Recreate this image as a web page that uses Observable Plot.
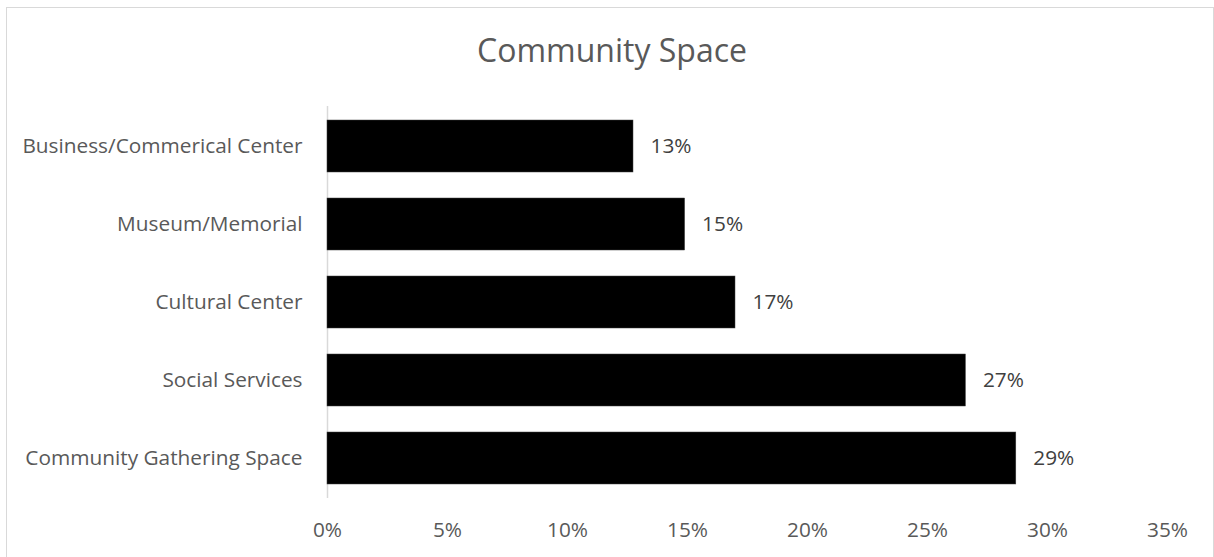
<!DOCTYPE html>
<html>
<head>
<meta charset="utf-8">
<script src="https://cdn.jsdelivr.net/npm/d3@7"></script>
<script src="https://cdn.jsdelivr.net/npm/@observablehq/plot@0.6"></script>
<style>
  html, body { margin: 0; padding: 0; background: #fff; }
  #wrap { position: relative; width: 1214px; height: 557px; overflow: hidden; font-family: "Open Sans", sans-serif; }
  #frame { position: absolute; left: 6px; top: 7px; width: 1208px; height: 600px; border: 1px solid #d9d9d9; box-sizing: border-box; pointer-events: none; }
  #title { height: 80px; box-sizing: border-box; padding-top: 34px; text-align: center; font-size: 32px; line-height: 1; color: #595959; padding-left: 10px; }
  #chart svg { display: block; }
</style>
</head>
<body>
<div id="wrap">
  <div id="frame"></div>
  <div id="title">Community Space</div>
  <div id="chart"></div>
</div>
<script>
const categories = ["Business/Commerical Center", "Museum/Memorial", "Cultural Center", "Social Services", "Community Gathering Space"];
const values = [12.75, 14.9, 17.0, 26.6, 28.7];
const valueLabels = ["13%", "15%", "17%", "27%", "29%"];
const xTicks = [0, 5, 10, 15, 20, 25, 30, 35];

const data = categories.map((c, i) => ({category: c, value: values[i], label: valueLabels[i]}));

const chart = Plot.plot({
  width: 1214,
  height: 477,
  marginLeft: 327,
  marginRight: 47,
  marginTop: 26,
  marginBottom: 59,
  style: {fontFamily: "Open Sans, sans-serif", fontSize: "20.8px", color: "#595959", background: "transparent"},
  x: {domain: [0, 35], label: null},
  y: {domain: categories, paddingInner: 0.33, paddingOuter: 0.165, label: null},
  marks: [
    Plot.ruleX([0], {stroke: "#d9d9d9", strokeWidth: 1.5}),
    Plot.barX(data, {x: "value", y: "category", fill: "#000000", stroke: "#404040", strokeWidth: 0.5}),
    Plot.text(data, {x: "value", y: "category", text: "label", dx: 17, textAnchor: "start", fill: "#404040", fontSize: 20.8}),
    Plot.axisX({ticks: xTicks, tickFormat: d => d + "%", tickSize: 0, tickPadding: 24, label: null, fill: "#595959"}),
    Plot.axisY({tickSize: 0, tickPadding: 25, label: null, fill: "#595959"})
  ]
});
document.getElementById("chart").appendChild(chart);
</script>
</body>
</html>
